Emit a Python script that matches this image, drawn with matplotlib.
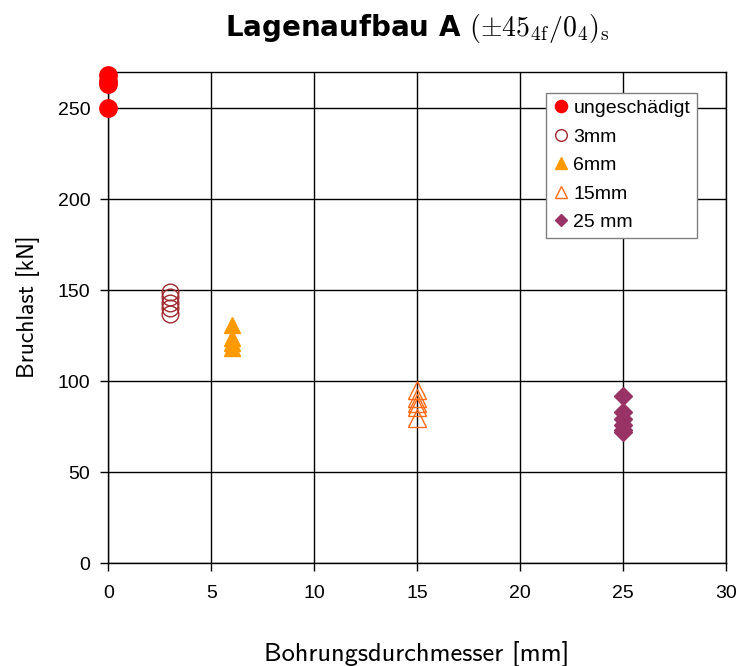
import matplotlib
matplotlib.use("Agg")
import matplotlib.pyplot as plt

plt.rcParams["mathtext.fontset"] = "cm"

# Bruchlast [kN] je Bohrungsdurchmesser [mm]
d_intact = [0, 0, 0, 0]
f_intact = [250, 263, 265, 268]

d_3 = [3, 3, 3, 3, 3]
f_3 = [149, 146, 143, 140, 137]

d_6 = [6, 6, 6, 6]
f_6 = [131, 124, 121, 118]

d_15 = [15, 15, 15, 15, 15]
f_15 = [95, 91, 88, 86, 80]

d_25 = [25, 25, 25, 25, 25, 25]
f_25 = [92, 83, 79, 76, 73, 72]

labels = ["ungeschädigt", "3mm", "6mm", "15mm", "25 mm"]
x_ticks = [0, 5, 10, 15, 20, 25, 30]
y_ticks = [0, 50, 100, 150, 200, 250]

fig = plt.figure(figsize=(7.38, 6.66), dpi=100)
ax = fig.add_axes([0.1468, 0.1543, 0.8365, 0.7380])

common = dict(clip_on=False, zorder=3, linestyle="none")
ax.plot(d_intact, f_intact, marker="o", ms=12.5, color="#FF0000", mec="#FF0000",
        label=labels[0], **common)
ax.plot(d_3, f_3, marker="o", ms=12, mfc="none", mec="#A0282D", mew=1.0,
        label=labels[1], **common)
ax.plot(d_6, f_6, marker="^", ms=12, color="#FF9900", mec="#FF9900",
        label=labels[2], **common)
ax.plot(d_15, f_15, marker="^", ms=12.5, mfc="none", mec="#FF6A13", mew=1.0,
        label=labels[3], **common)
ax.plot(d_25, f_25, marker="D", ms=9, color="#993366", mec="#993366",
        label=labels[4], **common)

ax.set_xlim(0, 30)
ax.set_ylim(0, 270)
ax.set_xticks(x_ticks)
ax.set_yticks(y_ticks)
ax.grid(True, color="black", linewidth=1.0)
ax.set_axisbelow(True)
for s in ax.spines.values():
    s.set_color("black")
    s.set_linewidth(1.0)
ax.tick_params(direction="out", length=6, width=1.0, color="black",
               labelsize=14)
ax.tick_params(axis="x", pad=10)
ax.tick_params(axis="y", pad=7)
for lbl in ax.get_xticklabels() + ax.get_yticklabels():
    lbl.set_family("Liberation Sans")

ax.set_xlabel("Bohrungsdurchmesser [mm]", fontsize=19, labelpad=28,
              family="cmss10")
ax.set_ylabel("Bruchlast [kN]", fontsize=17, family="cmss10")
ax.yaxis.set_label_coords(-0.111, 0.521)

fig.text(0.565, 0.957, r"Lagenaufbau A $(\pm45_{\mathrm{4f}}/0_4)_{\mathrm{s}}$",
         ha="center", va="center", fontsize=20, fontweight="bold",
         family="DejaVu Sans")

leg = ax.legend(loc="upper right", bbox_to_anchor=(0.9535, 0.957),
                prop={"family": "Liberation Sans", "size": 14},
                fancybox=False, framealpha=1, edgecolor="#808080",
                handlelength=0.8, handletextpad=0.25, borderpad=0.35,
                labelspacing=0.56, markerscale=0.7, borderaxespad=0)
leg.get_frame().set_linewidth(1.0)

fig.savefig("out.png", dpi=100)
